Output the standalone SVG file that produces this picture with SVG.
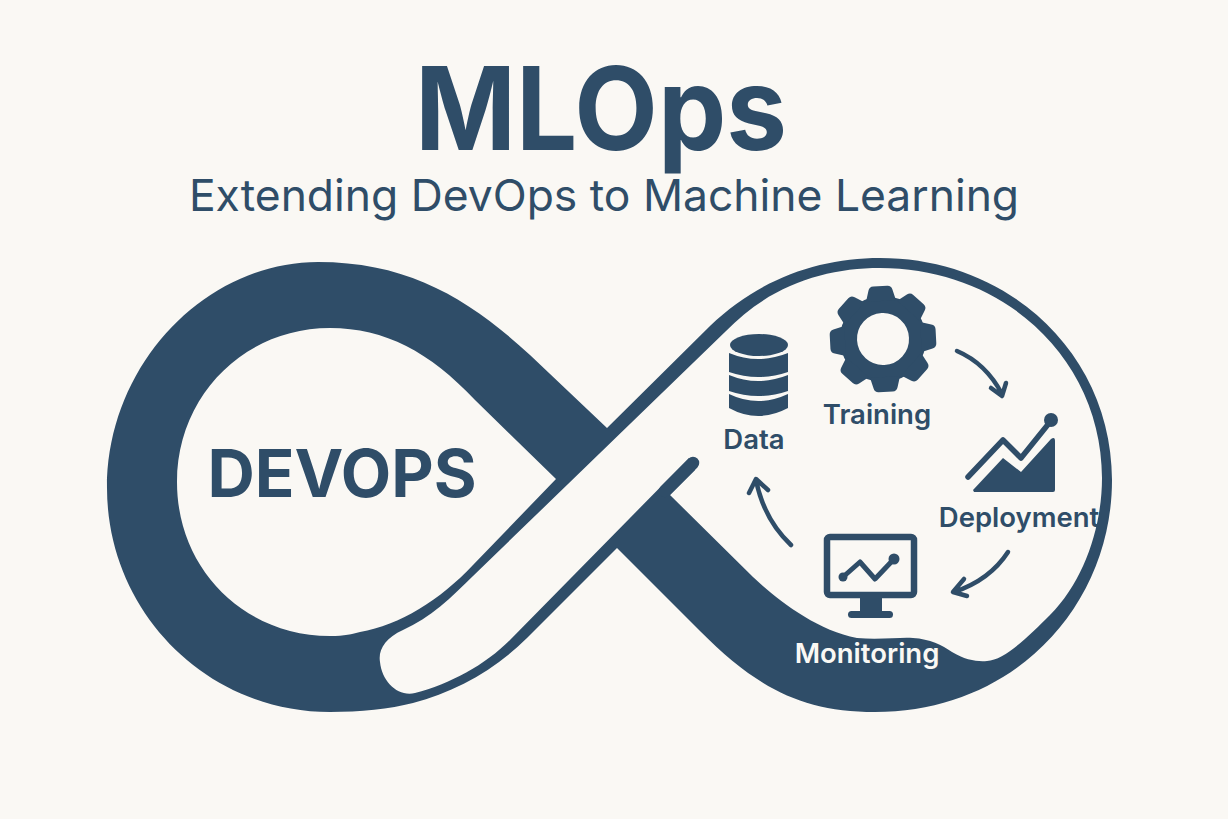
<svg xmlns="http://www.w3.org/2000/svg" width="1228" height="819" viewBox="0 0 1228 819">
<style>
.bg{fill:#faf8f4}
.dk{fill:#2f4d68}
.t{font-family:Inter,"Liberation Sans",sans-serif;fill:#2f4d68}
.lb{font-size:27.5px;font-weight:600;text-anchor:middle}
.ar{fill:none;stroke:#2f4d68;stroke-width:4.5;stroke-linecap:round;stroke-linejoin:round}
.ln{fill:none;stroke:#2f4d68;stroke-linecap:round;stroke-linejoin:round}
</style>
<defs>
<path id="tooth" class="dk" d="M-15 -38 L-12 -49 Q-11 -53 -7 -53 H7 Q11 -53 12 -49 L15 -38 Z"/>
</defs>
<rect class="bg" width="1228" height="819"/>
<g id="title">
<text class="t" x="601" y="150" font-size="115" font-weight="700" text-anchor="middle" textLength="372" lengthAdjust="spacingAndGlyphs">MLOps</text>
<text class="t" x="604" y="211" font-size="44.4" font-weight="400" text-anchor="middle">Extending DevOps to Machine Learning</text>
</g>
<g id="infinity">
<path class="dk" d="M318 262 C410 262 470 300 530 355 L607 428 L710 326 C760 278 820 258 880 258 C1010 258 1112 355 1112 480 C1112 605 1015 712 875 712 C800 712 755 686 700 631 L617 548 L527 638 C495 670 455 692 413 703 C390 709 360 712 330 712 C205 712 107 610 107 488 C107 365 205 262 318 262 Z"/>
<path class="bg" d="M556 479 L475 400 C430 352 385 328 330 328 C245 328 177 395 177 482 C177 570 245 636 330 636 C345 636 352 634 360 632 C400 625 440 600 473 565 Z"/>
<path class="bg" d="M403 630 C385 638 378 650 380 662 C382 682 398 697 415 693 C450 684 485 665 510 640 L689 458 L695 470 L670 495 L753 577 C775 598 815 630 857 638 C880 640 900 637 913 638 C930 639 942 645 952 652 C965 660 978 662 987 661 C1005 660 1030 635 1050 615 C1085 580 1102 525 1102 478 C1102 360 1005 268 880 268 C825 268 770 285 725 332 L473 576 C452 597 430 618 403 630 Z"/>
<path class="ln" d="M693 463 L665 491" stroke-width="12.5"/>
<text class="t" x="342" y="497" font-size="65.5" font-weight="700" text-anchor="middle">DEVOPS</text>
</g>
<g id="connectors">
<path class="ar" d="M957 351 C978 360 992 375 1002 394 M991 388 L1002 396 L1006 383"/>
<path class="ar" d="M1008 552 C995 572 975 585 954 592 M964 579 L953 592 L967 596"/>
<path class="ar" d="M791 545 C772 527 761 505 756 480 M749 493 L756 479 L768 490"/>
</g>
<g id="node-data">
<ellipse class="dk" cx="759" cy="345" rx="29" ry="11"/>
<path class="dk" d="M729 353 Q758 365 788 353 V372 Q758 382 729 372 Z"/>
<path class="dk" d="M729 375 Q758 387 788 375 V391 Q758 401 729 391 Z"/>
<path class="dk" d="M729 394 Q758 408 788 394 V408 Q758 424 729 408 Z"/>
<text class="t lb" x="754" y="449">Data</text>
</g>
<g id="node-training">
<g transform="translate(883,339) rotate(-3)">
<circle r="34.5" fill="none" stroke="#2f4d68" stroke-width="17"/>
<use href="#tooth"/><use href="#tooth" transform="rotate(45)"/><use href="#tooth" transform="rotate(90)"/><use href="#tooth" transform="rotate(135)"/><use href="#tooth" transform="rotate(180)"/><use href="#tooth" transform="rotate(225)"/><use href="#tooth" transform="rotate(270)"/><use href="#tooth" transform="rotate(315)"/>
</g>
<text class="t lb" x="877" y="424">Training</text>
</g>
<g id="node-deployment">
<path class="ln" d="M968 477 L1003 440 L1021 458 L1050 422" stroke-width="5.5"/>
<circle class="dk" cx="1051" cy="420" r="7"/>
<path class="dk" d="M973 490 L1003 458 L1021 472 L1051 439 Q1055 436 1055 441 V490 Q1055 492 1053 492 H974 Z"/>
<text class="t lb" x="1019" y="527">Deployment</text>
</g>
<g id="node-monitoring">
<rect x="827" y="537" width="87" height="58" rx="3" fill="none" stroke="#2f4d68" stroke-width="6.5"/>
<rect class="dk" x="860" y="597" width="22" height="16"/>
<rect class="dk" x="848" y="611" width="45" height="7" rx="3.5"/>
<path class="ln" d="M843 577 L860 562 L875 579 L894 559" stroke-width="5"/>
<circle class="dk" cx="843" cy="577" r="4.5"/>
<circle class="dk" cx="894" cy="559" r="5.5"/>
<text class="t lb" x="867" y="663" style="fill:#faf8f4">Monitoring</text>
</g>
</svg>
